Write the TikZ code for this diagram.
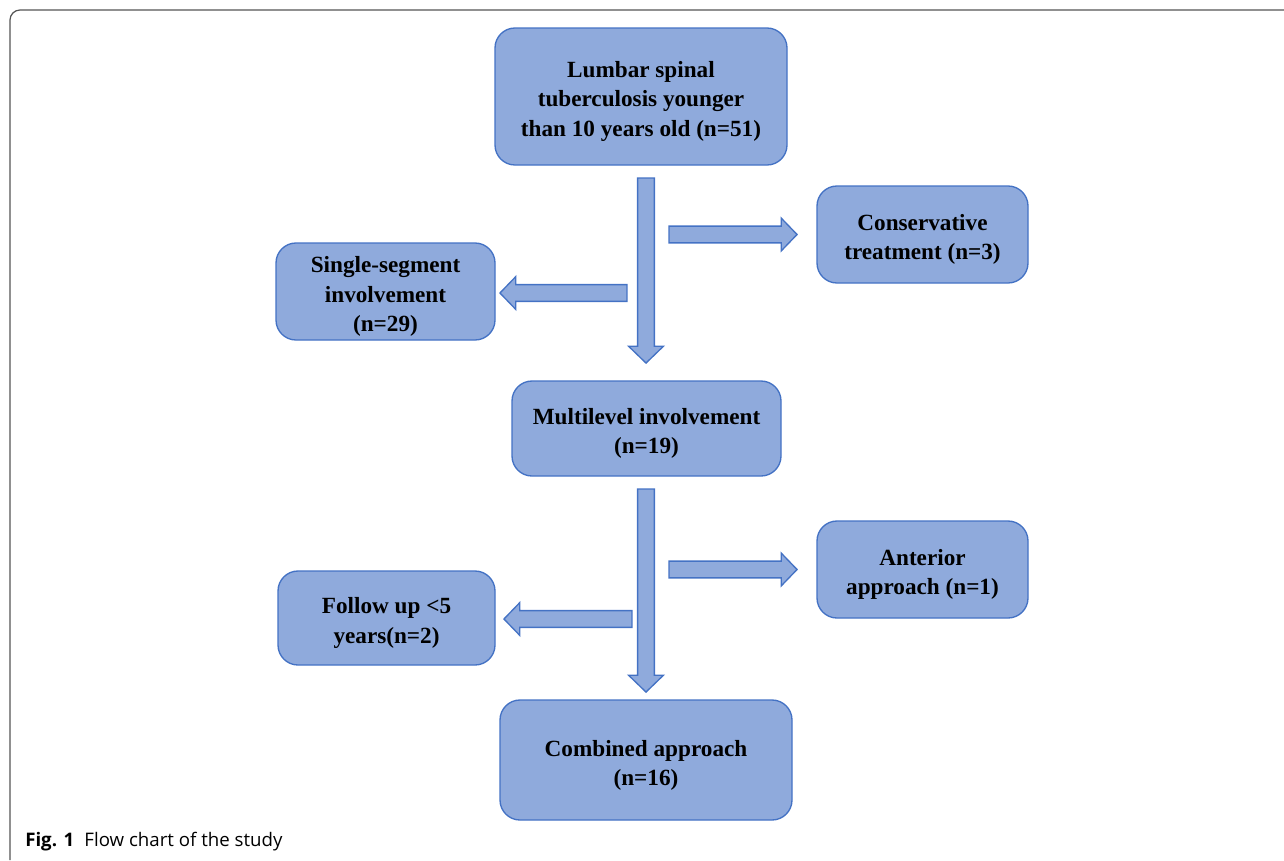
\documentclass[tikz,border=0pt]{standalone}
\usepackage{fontspec}
\setmainfont{Liberation Serif}
\newfontfamily\capfont{Open Sans}
\usepackage{tikz}
\usetikzlibrary{shapes.arrows}
\definecolor{boxfill}{HTML}{8FAADC}
\definecolor{boxline}{HTML}{4472C4}
\definecolor{frameline}{HTML}{555555}
\newcommand\tstrut{\rule{0pt}{19.5pt}}

\begin{document}
\begin{tikzpicture}[x=0.75pt,y=-0.75pt,
  flow node/.style={rectangle,rounded corners=15pt,draw=boxline,fill=boxfill,line width=1pt,align=center,inner sep=2pt,font=\fontsize{17.4}{21.8}\selectfont\bfseries},
  block arrow/.style={single arrow,draw=boxline,fill=boxfill,line width=1pt,inner xsep=0pt,inner ysep=5.8pt,single arrow tip angle=92,single arrow head indent=0pt}]

  \useasboundingbox (0,0) rectangle (1284,860);
  \draw[frameline,line width=0.9pt,rounded corners=7.5pt] (10,860) -- (10,10) -- (1284,10);

  \node[flow node,minimum width=219pt,minimum height=102.75pt] (lumbar) at (641,96.5) {\tstrut Lumbar spinal\\tuberculosis younger\\than 10 years old (n=51)};
  \node[flow node,minimum width=158.25pt,minimum height=72.75pt] (cons) at (922.5,234.5) {\tstrut Conservative\\treatment (n=3)};
  \node[flow node,minimum width=164.25pt,minimum height=72.75pt] (single) at (385.5,291.5) {\tstrut Single-segment\\involvement\\(n=29)};
  \node[flow node,minimum width=201.75pt,minimum height=71.25pt] (multi) at (646.5,428.5) {\tstrut Multilevel involvement\\(n=19)};
  \node[flow node,minimum width=158.25pt,minimum height=72.75pt] (ant) at (922.5,569.5) {\tstrut Anterior\\approach (n=1)};
  \node[flow node,minimum width=162.75pt,minimum height=70.5pt] (follow) at (386.5,618) {\tstrut Follow up <5\\years(n=2)};
  \node[flow node,minimum width=219pt,minimum height=90pt] (comb) at (646,760) {\tstrut Combined approach\\(n=16)};

  % block arrows
  \node[block arrow,rotate=-90,minimum height=138.75pt,single arrow head extend=6.75pt] (down1) at (646,266.5) {};
  \node[block arrow,minimum height=96pt,single arrow head extend=6pt] (right1) at (729,234.5) {};
  \node[block arrow,rotate=180,minimum height=95.25pt,single arrow head extend=6pt] (left1) at (567.5,293) {};
  \node[block arrow,rotate=-90,minimum height=152.25pt,single arrow head extend=6.75pt] (down2) at (646,586.5) {};
  \node[block arrow,minimum height=96pt,single arrow head extend=6pt] (right2) at (729,569.5) {};
  \node[block arrow,rotate=180,minimum height=96pt,single arrow head extend=6pt] (left2) at (572,619) {};

  \node[anchor=west,inner sep=0pt,font=\capfont\fontsize{14}{16}\selectfont] (cap) at (25,842) {\textbf{Fig. 1}\hspace{0.55em}Flow chart of the study};
\end{tikzpicture}
\end{document}
